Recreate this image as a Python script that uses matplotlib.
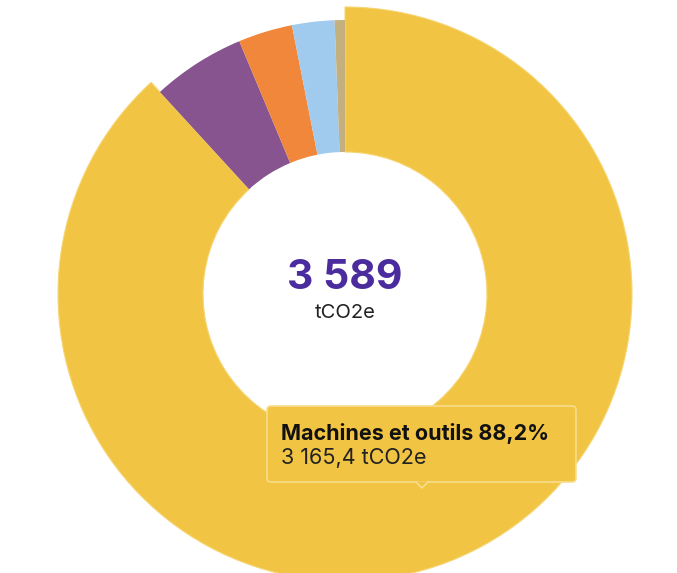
import matplotlib
matplotlib.use("Agg")
import matplotlib.pyplot as plt
from matplotlib.patches import FancyBboxPatch, Polygon

# Data (tCO2e)
values = [3165.4, 197.4, 114.8, 89.7, 21.7]
colors = ["#F2C443", "#87548F", "#F0873A", "#A0CBEF", "#C4B07E"]
highlight_label = "Machines et outils"
total_text = "3 589"
unit = "tCO2e"

plt.rcParams['font.family'] = ['Inter', 'DejaVu Sans']

W, H = 677, 573
fig = plt.figure(figsize=(W / 100, H / 100), dpi=100)
ax = fig.add_axes([0, 0, 1, 1])

cx, cy = 345, H - 294
r_out, r_in, r_hover = 274, 142, 287

wedges, _ = ax.pie(values, colors=colors, startangle=90, counterclock=False,
                   radius=r_out, center=(cx, cy),
                   wedgeprops=dict(width=r_out - r_in, linewidth=0))
# hovered slice is drawn larger
wedges[0].set_radius(r_hover)
wedges[0].set_width(r_hover - r_in)
wedges[0].set_edgecolor("#F6D572")
wedges[0].set_linewidth(0.8)

ax.set_xlim(0, W)
ax.set_ylim(0, H)
ax.set_aspect('equal')
ax.axis('off')

# centre text
ax.text(cx, H - 278, total_text, ha='center', va='center', fontsize=29.5,
        fontweight='bold', color='#4B2C9F')
ax.text(cx, H - 313, unit, ha='center', va='center', fontsize=14.5,
        color='#222222')

# tooltip
pct = values[0] / sum(values) * 100
x0, x1, y0, y1 = 267, 576, H - 482, H - 406
box = FancyBboxPatch((x0, y0), x1 - x0, y1 - y0,
                     boxstyle="round,pad=0,rounding_size=4",
                     facecolor="#F2C443", edgecolor="#F7DD8C", linewidth=1.2,
                     zorder=5)
ax.add_patch(box)
tri = Polygon([(416, y0 + 0.5), (428, y0 + 0.5), (422, y0 - 6)], closed=True,
              facecolor="#F2C443", edgecolor="none", zorder=6)
ax.add_patch(tri)
ax.plot([416, 422, 428], [y0, y0 - 6, y0], color="#F7DD8C", lw=1.2, zorder=6)
ax.text(281, H - 433, f"{highlight_label} {pct:.1f}%".replace('.', ','),
        ha='left', va='center', fontsize=15.5, fontweight='bold',
        color='#111111', zorder=7)
ax.text(281, H - 458, f"3 165,4 {unit}", ha='left', va='center', fontsize=15.5,
        color='#222222', zorder=7)

fig.savefig("out.png", dpi=100)
